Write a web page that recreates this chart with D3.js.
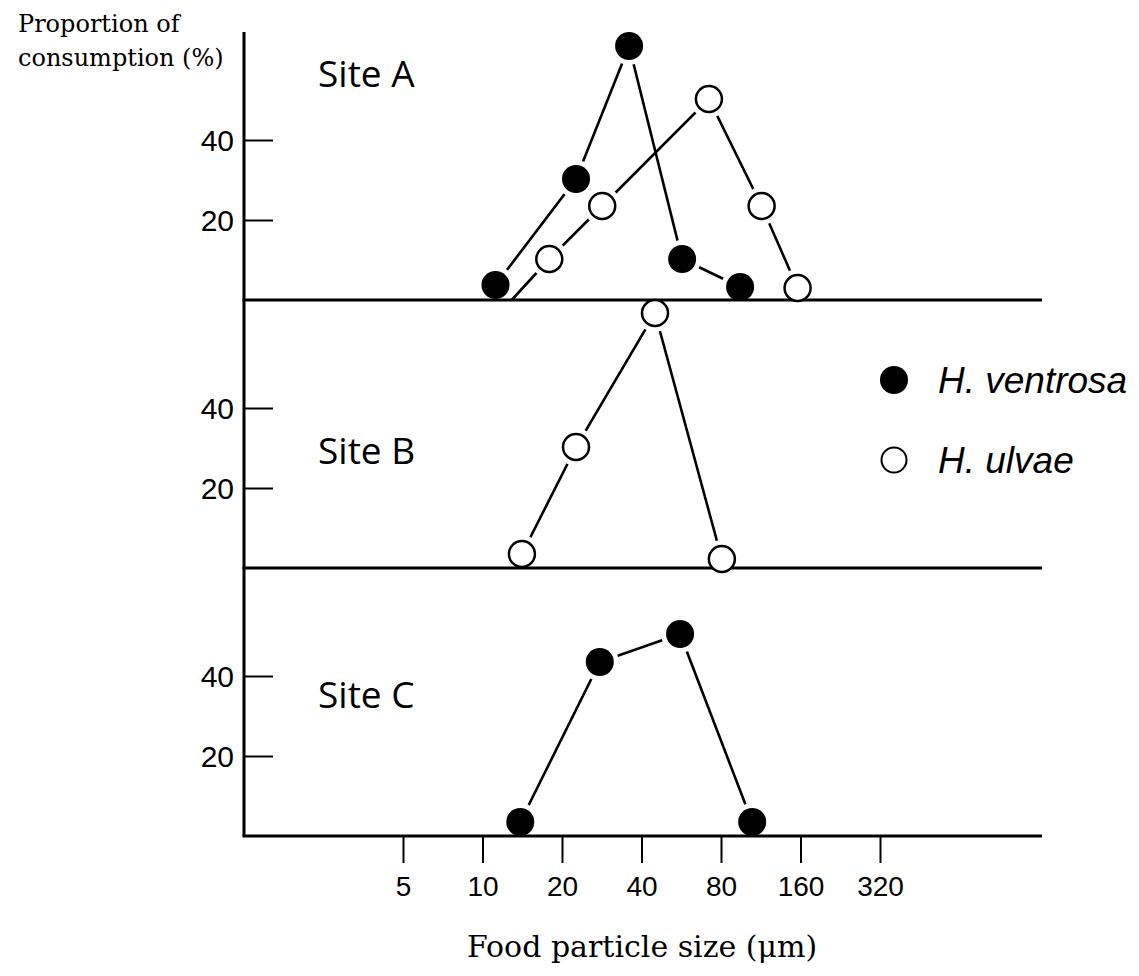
<!DOCTYPE html>
<html>
<head>
<meta charset="utf-8">
<script src="https://cdn.jsdelivr.net/npm/d3@7"></script>
<style>
  body { margin: 0; background: #fff; }
</style>
</head>
<body>
<div id="chart"></div>
<script>
// particle size classes (um) and tick labels
const sizeTicks = [5, 10, 20, 40, 80, 160, 320];
const yTicks = [20, 40];

// site A
const siteA_ventrosaSize = [11.2, 22.6, 35.9, 57, 94.5];
const siteA_ventrosaPct  = [3.75, 30.25, 63.5, 10.25, 3.25];
const siteA_ulvaeSize    = [12.9, 17.9, 28.4, 72, 114, 156];
const siteA_ulvaePct     = [0, 10.25, 23.5, 50.25, 23.5, 3];

// site B
const siteB_ulvaeSize = [14.1, 22.6, 45, 80.6];
const siteB_ulvaePct  = [3.5, 30.25, 63.75, 2.25];

// site C
const siteC_ventrosaSize = [13.9, 27.8, 56, 105];
const siteC_ventrosaPct  = [3.5, 43.5, 50.5, 3.5];

const panels = [
  { label: "Site A", labelDy: 55, series: [
      { species: "ventrosa", size: siteA_ventrosaSize, pct: siteA_ventrosaPct },
      { species: "ulvae", size: siteA_ulvaeSize, pct: siteA_ulvaePct }
  ]},
  { label: "Site B", labelDy: 164, series: [
      { species: "ulvae", size: siteB_ulvaeSize, pct: siteB_ulvaePct }
  ]},
  { label: "Site C", labelDy: 140, series: [
      { species: "ventrosa", size: siteC_ventrosaSize, pct: siteC_ventrosaPct }
  ]}
];

const width = 1139, height = 976;
const axisX = 244, rightX = 1042;
const panelTop = 32, panelH = 268;
const r = 14;

const svg = d3.select("#chart").append("svg")
  .attr("width", width)
  .attr("height", height)
  .style("background", "#fff");

const x = d3.scaleLog().base(2)
  .domain([5, 320])
  .range([403, 880]);

const lineLayer = svg.append("g");
const haloLayer = svg.append("g");
const axisLayer = svg.append("g");
const markLayer = svg.append("g");

panels.forEach((p, i) => {
  const base = panelTop + (i + 1) * panelH;
  const y = d3.scaleLinear()
    .domain([0, panelH / 4])
    .range([base, base - panelH]);

  // baseline
  axisLayer.append("line")
    .attr("x1", axisX - 1.5).attr("x2", rightX)
    .attr("y1", base).attr("y2", base)
    .attr("stroke", "#000").attr("stroke-width", 3);

  // y ticks
  const yAxis = axisLayer.append("g")
    .attr("transform", `translate(${axisX},0)`)
    .call(d3.axisRight(y).tickValues(yTicks).tickSize(29).tickFormat(d3.format("d")))
    .call(g => g.select(".domain").remove())
    .call(g => g.selectAll("line").attr("stroke", "#000").attr("stroke-width", 2));
  yAxis.selectAll("text")
    .attr("x", -10)
    .attr("dy", "0.36em")
    .attr("text-anchor", "end")
    .style("font-family", "'Liberation Sans', Arial, sans-serif")
    .style("font-size", "30px")
    .attr("fill", "#000");

  // site label
  axisLayer.append("text")
    .attr("x", 318)
    .attr("y", base - panelH + p.labelDy)
    .style("font-family", "'Open Sans', sans-serif")
    .style("font-size", "37px")
    .attr("fill", "#000")
    .text(p.label);

  p.series.forEach(s => {
    const pts = s.size.map((d, k) => ({ size: d, pct: s.pct[k] }));
    const line = d3.line().x(d => x(d.size)).y(d => y(d.pct));

    lineLayer.append("path")
      .datum(pts)
      .attr("d", line)
      .attr("fill", "none")
      .attr("stroke", "#000")
      .attr("stroke-width", 2.6);

    const shown = pts.filter(d => d.pct > 0);

    // white gap round markers
    haloLayer.selectAll(null)
      .data(shown)
      .join("circle")
        .attr("cx", d => x(d.size))
        .attr("cy", d => y(d.pct))
        .attr("r", r + 5)
        .attr("fill", "#fff");

    markLayer.selectAll(null)
      .data(shown)
      .join("circle")
        .attr("cx", d => x(d.size))
        .attr("cy", d => y(d.pct))
        .attr("r", s.species === "ventrosa" ? r : r - 1)
        .attr("fill", s.species === "ventrosa" ? "#000" : "#fff")
        .attr("stroke", "#000")
        .attr("stroke-width", s.species === "ventrosa" ? 0 : 2.5);
  });
});

// y axis line
axisLayer.append("line")
  .attr("x1", axisX).attr("x2", axisX)
  .attr("y1", panelTop).attr("y2", panelTop + 3 * panelH)
  .attr("stroke", "#000").attr("stroke-width", 3);

// x axis ticks
const bottom = panelTop + 3 * panelH;
svg.append("g")
  .attr("transform", `translate(0,${bottom})`)
  .call(d3.axisBottom(x).tickValues(sizeTicks).tickSize(27).tickPadding(13).tickFormat(d3.format("d")))
  .call(g => g.select(".domain").remove())
  .call(g => g.selectAll("line").attr("stroke", "#000").attr("stroke-width", 2))
  .call(g => g.selectAll("text")
    .style("font-family", "'Liberation Sans', Arial, sans-serif")
    .style("font-size", "28px")
    .attr("fill", "#000"));

// legend
const legend = svg.append("g");
const legendItems = [
  { species: "ventrosa", text: "H. ventrosa", y: 380 },
  { species: "ulvae", text: "H. ulvae", y: 460 }
];
legendItems.forEach(d => {
  legend.append("circle")
    .attr("cx", 894).attr("cy", d.y)
    .attr("r", d.species === "ventrosa" ? 14 : 12.5)
    .attr("fill", d.species === "ventrosa" ? "#000" : "#fff")
    .attr("stroke", "#000")
    .attr("stroke-width", d.species === "ventrosa" ? 0 : 2);
  legend.append("text")
    .attr("x", 938).attr("y", d.y + 13)
    .style("font-family", "'Liberation Sans', Arial, sans-serif")
    .style("font-style", "italic")
    .style("font-size", "37px")
    .attr("fill", "#000")
    .text(d.text);
});

// axis titles
const yTitle = svg.append("text")
  .style("font-family", "'DejaVu Serif', serif")
  .style("font-size", "24px")
  .attr("fill", "#000");
yTitle.append("tspan").attr("x", 18).attr("y", 32).text("Proportion of");
yTitle.append("tspan").attr("x", 18).attr("y", 66).text("consumption (%)");

svg.append("text")
  .attr("x", 642).attr("y", 957)
  .attr("text-anchor", "middle")
  .style("font-family", "'DejaVu Serif', serif")
  .style("font-size", "30px")
  .attr("fill", "#000")
  .text("Food particle size (\u03bcm)");
</script>
</body>
</html>
